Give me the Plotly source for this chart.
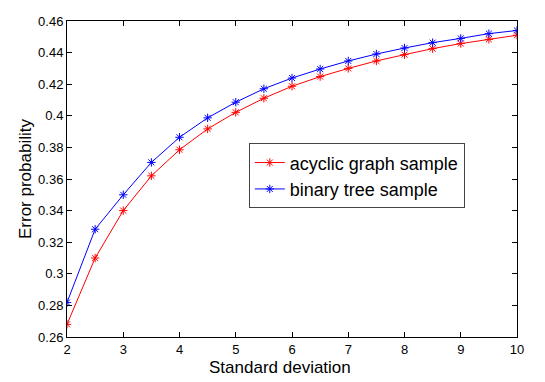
import plotly.graph_objects as go

std_dev = [2, 2.5, 3, 3.5, 4, 4.5, 5, 5.5, 6, 6.5, 7, 7.5, 8, 8.5, 9, 9.5, 10]
acyclic_graph = [0.268, 0.310, 0.340, 0.362, 0.3785, 0.3917, 0.4022, 0.4111, 0.4187, 0.4248,
                 0.4300, 0.4347, 0.4387, 0.4425, 0.4457, 0.4484, 0.4510]
binary_tree = [0.2818, 0.3282, 0.3500, 0.3705, 0.3864, 0.3987, 0.4086, 0.4171, 0.4239, 0.4296,
               0.4347, 0.4391, 0.4429, 0.4463, 0.4490, 0.4520, 0.4540]
y_ticks = [0.26, 0.28, 0.30, 0.32, 0.34, 0.36, 0.38, 0.40, 0.42, 0.44, 0.46]
y_tick_labels = ['0.26', '0.28', '0.3', '0.32', '0.34', '0.36', '0.38', '0.4', '0.42', '0.44', '0.46']
x_ticks = [2, 3, 4, 5, 6, 7, 8, 9, 10]

fig = go.Figure()
fig.add_trace(go.Scatter(
    x=std_dev, y=acyclic_graph, mode='lines+markers', name='acyclic graph sample',
    line=dict(color='#ff0000', width=1),
    marker=dict(symbol='asterisk-open', size=7, line=dict(color='#ff0000', width=1))
))
fig.add_trace(go.Scatter(
    x=std_dev, y=binary_tree, mode='lines+markers', name='binary tree sample',
    line=dict(color='#0000ff', width=1),
    marker=dict(symbol='asterisk-open', size=7, line=dict(color='#0000ff', width=1))
))

axis_style = dict(showline=True, linecolor='black', linewidth=1, mirror='ticks',
                  ticks='inside', ticklen=5, tickcolor='black', showgrid=False, zeroline=False,
                  tickfont=dict(size=13, color='black'))

fig.update_layout(
    width=545, height=382,
    margin=dict(l=67, r=28, t=21, b=45),
    paper_bgcolor='white', plot_bgcolor='white',
    font=dict(family='Liberation Sans, Arial, sans-serif', color='black'),
    showlegend=True,
    legend=dict(x=0.404, y=0.51, xanchor='left', yanchor='middle',
                bordercolor='#444444', borderwidth=1, bgcolor='white',
                font=dict(size=18), tracegroupgap=0, itemwidth=30),
    xaxis=dict(range=[2, 10], tickvals=x_ticks, **axis_style),
    yaxis=dict(range=[0.26, 0.46], tickvals=y_ticks, ticktext=y_tick_labels,
               title=dict(text='Error probability', font=dict(size=17), standoff=2), **axis_style),
)

# x label sits a little left of centre in the original
fig.add_annotation(text='Standard deviation', xref='paper', yref='paper', x=0.473, y=-0.095,
                   xanchor='center', yanchor='middle', showarrow=False, font=dict(size=17))

# the page body has an 8px default margin; drop it so the figure fills the window
fig.write_html("out.html", config={'displayModeBar': False},
               post_script="document.body.style.margin='0px';")
